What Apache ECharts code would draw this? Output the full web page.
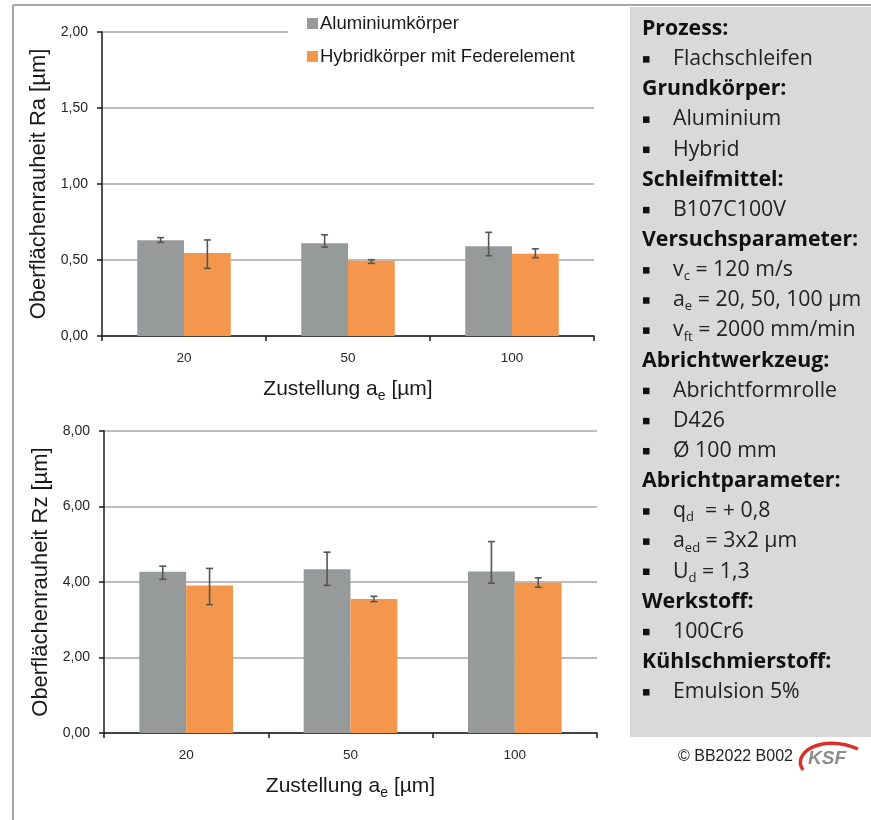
<!DOCTYPE html>
<html><head><meta charset="utf-8">
<script src="https://cdn.jsdelivr.net/npm/echarts@6/dist/echarts.min.js"></script>
<style>html,body{margin:0;padding:0;background:#fff}#c{width:871px;height:820px}</style>
</head><body><div id="c"></div>
<script>
// ---------- data ----------
const categories = ['20', '50', '100'];
const seriesNames = ['Aluminiumkörper', 'Hybridkörper mit Federelement'];

// Ra [µm]
const raAlu      = [0.63, 0.61, 0.59];
const raAluHi    = [0.647, 0.666, 0.682];
const raAluLo    = [0.616, 0.585, 0.528];
const raHyb      = [0.546, 0.495, 0.541];
const raHybHi    = [0.632, 0.502, 0.574];
const raHybLo    = [0.445, 0.478, 0.515];

// Rz [µm]
const rzAlu      = [4.27, 4.34, 4.28];
const rzAluHi    = [4.42, 4.79, 5.07];
const rzAluLo    = [4.07, 3.91, 3.97];
const rzHyb      = [3.91, 3.55, 3.98];
const rzHybHi    = [4.36, 3.62, 4.11];
const rzHybLo    = [3.40, 3.48, 3.86];

const raTicks = { min: 0, max: 2, interval: 0.5 };
const rzTicks = { min: 0, max: 8, interval: 2 };

const panelLines = [
  ['h', 'Prozess:'],
  ['b', 'Flachschleifen'],
  ['h', 'Grundkörper:'],
  ['b', 'Aluminium'],
  ['b', 'Hybrid'],
  ['h', 'Schleifmittel:'],
  ['b', 'B107C100V'],
  ['h', 'Versuchsparameter:'],
  ['b', 'v', 'c', ' = 120 m/s'],
  ['b', 'a', 'e', ' = 20, 50, 100 µm'],
  ['b', 'v', 'ft', ' = 2000 mm/min'],
  ['h', 'Abrichtwerkzeug:'],
  ['b', 'Abrichtformrolle'],
  ['b', 'D426'],
  ['b', 'Ø 100 mm'],
  ['h', 'Abrichtparameter:'],
  ['b', 'q', 'd', '  = + 0,8'],
  ['b', 'a', 'ed', ' = 3x2 µm'],
  ['b', 'U', 'd', ' = 1,3'],
  ['h', 'Werkstoff:'],
  ['b', '100Cr6'],
  ['h', 'Kühlschmierstoff:'],
  ['b', 'Emulsion 5%']
];
const copyrightText = '© BB2022 B002';
const logoText = 'KSF';

// ---------- style ----------
const GRAY = '#979a9b';
const ORANGE = '#f4964c';
const ERR = '#555555';
const FONT = '"Liberation Sans", Arial, sans-serif';
const PFONT = '"Open Sans", Lato, sans-serif';
const PSIZE = 21.3;
const BAR_FRAC = 0.57;

const fmt = v => v.toFixed(2).replace('.', ',');

function errRender(sign) {
  return function (params, api) {
    const x = api.value(0);
    const lo = api.coord([x, api.value(1)]);
    const hi = api.coord([x, api.value(2)]);
    const band = api.size([1, 0])[0];
    const cx = lo[0] + sign * band * BAR_FRAC / 4;
    const cap = 3.5;
    const st = { stroke: ERR, lineWidth: 1.6 };
    return {
      type: 'group',
      children: [
        { type: 'line', shape: { x1: cx, y1: hi[1], x2: cx, y2: lo[1] }, style: st },
        { type: 'line', shape: { x1: cx - cap, y1: hi[1], x2: cx + cap, y2: hi[1] }, style: st },
        { type: 'line', shape: { x1: cx - cap, y1: lo[1], x2: cx + cap, y2: lo[1] }, style: st }
      ]
    };
  };
}
const errData = (lo, hi) => lo.map((l, i) => [i, l, hi[i]]);

function xAxisCfg(gi) {
  return {
    type: 'category', gridIndex: gi, data: categories,
    axisLine: { lineStyle: { color: '#1a1a1a', width: 1.5 } },
    axisTick: { show: true, length: 5, lineStyle: { color: '#1a1a1a', width: 1.5 } },
    axisLabel: { color: '#262626', fontFamily: FONT, fontSize: 13.5, margin: 15 },
    name: '{n|Zustellung a}{s|e}{n| [µm]}',
    nameLocation: 'middle', nameGap: 39,
    nameTextStyle: {
      rich: {
        n: { fontFamily: FONT, fontSize: 21, color: '#1a1a1a', lineHeight: 26, verticalAlign: 'middle' },
        s: { fontFamily: FONT, fontSize: 14, color: '#1a1a1a', lineHeight: 28, verticalAlign: 'bottom' }
      }
    }
  };
}
function yAxisCfg(gi, ticks, name) {
  return {
    type: 'value', gridIndex: gi, min: ticks.min, max: ticks.max, interval: ticks.interval,
    axisLine: { show: true, lineStyle: { color: '#1a1a1a', width: 1.5 } },
    axisTick: { show: true, length: 5, lineStyle: { color: '#1a1a1a', width: 1.5 } },
    axisLabel: { color: '#262626', fontFamily: FONT, fontSize: 14, margin: 14, formatter: fmt },
    splitLine: { show: true, lineStyle: { color: '#a6a6a6', width: 1.5 } },
    name: name, nameLocation: 'middle', nameGap: 50,
    nameTextStyle: { fontFamily: FONT, fontSize: 22, color: '#1a1a1a' }
  };
}
function barSeries(name, data, gi, color) {
  return {
    name: name, type: 'bar', xAxisIndex: gi, yAxisIndex: gi, data: data,
    barGap: '0%', barCategoryGap: (100 - BAR_FRAC * 100) + '%',
    itemStyle: { color: color }, emphasis: { disabled: true }, z: 2
  };
}
function errSeries(lo, hi, gi, sign) {
  return {
    type: 'custom', xAxisIndex: gi, yAxisIndex: gi, renderItem: errRender(sign),
    encode: { x: 0, y: [1, 2] }, data: errData(lo, hi), z: 5, silent: true
  };
}

// ---------- graphics (panel, frame) ----------
const graphics = [
  { type: 'line', shape: { x1: 13, y1: 5, x2: 871, y2: 5 }, style: { stroke: '#a6a6a6', lineWidth: 2 }, z: 1 },
  { type: 'line', shape: { x1: 13, y1: 5, x2: 13, y2: 820 }, style: { stroke: '#a6a6a6', lineWidth: 2 }, z: 1 },
  { type: 'rect', shape: { x: 288, y: 8, width: 310, height: 92 }, style: { fill: '#fff' }, z: 3 },
  { type: 'rect', shape: { x: 630, y: 7, width: 241, height: 730 }, style: { fill: '#d9d9d9' }, z: 1 }
];
const LINE0 = 29, LSTEP = 30.14;
panelLines.forEach((ln, i) => {
  const y = LINE0 + i * LSTEP;
  if (ln[0] === 'h') {
    graphics.push({ type: 'text', x: 642, y: y, z: 2,
      style: { text: ln[1], font: 'bold ' + PSIZE + 'px ' + PFONT, fill: '#111', verticalAlign: 'middle' } });
  } else {
    graphics.push({ type: 'rect', shape: { x: 643, y: y - 3, width: 6.5, height: 6.5 }, style: { fill: '#111' }, z: 2 });
    if (ln.length === 2) {
      graphics.push({ type: 'text', x: 673, y: y, z: 2,
        style: { text: ln[1], font: PSIZE + 'px ' + PFONT, fill: '#222', verticalAlign: 'middle' } });
    } else {
      graphics.push({ type: 'text', x: 673, y: y - 13, z: 2,
        style: {
          text: '{n|' + ln[1] + '}{s|' + ln[2] + '}{n|' + ln[3] + '}',
          rich: {
            n: { fontFamily: PFONT, fontSize: PSIZE, fill: '#222', lineHeight: 26, verticalAlign: 'middle' },
            s: { fontFamily: PFONT, fontSize: 13, fill: '#222', lineHeight: 26, verticalAlign: 'bottom' }
          }
        } });
    }
  }
});
graphics.push({ type: 'text', x: 678, y: 757, z: 2,
  style: { text: copyrightText, font: '16px ' + FONT, fill: '#222', verticalAlign: 'middle' } });
graphics.push({ type: 'bezierCurve', z: 2,
  shape: { x1: 803, y1: 770, x2: 858, y2: 749, cpx1: 791, cpy1: 753, cpx2: 822, cpy2: 733 },
  style: { stroke: '#d6322a', lineWidth: 3.5, fill: null } });
graphics.push({ type: 'text', x: 808, y: 759, z: 2,
  style: { text: logoText, font: 'italic bold 19px ' + FONT, fill: '#8c8c8c', verticalAlign: 'middle' } });

// ---------- chart ----------
const chart = echarts.init(document.getElementById('c'), null, { renderer: 'canvas' });
chart.setOption({
  animation: false,
  backgroundColor: '#fff',
  grid: [
    { left: 102, top: 32, width: 492, height: 304 },
    { left: 104, top: 431, width: 493, height: 302 }
  ],
  legend: {
    orient: 'vertical', left: 302, top: 9, z: 6,
    icon: 'rect', itemWidth: 11, itemHeight: 11, itemGap: 14,
    textStyle: { fontFamily: FONT, fontSize: 18.5, color: '#1a1a1a', padding: [0, 0, 0, -3] },
    data: seriesNames
  },
  xAxis: [xAxisCfg(0), xAxisCfg(1)],
  yAxis: [yAxisCfg(0, raTicks, 'Oberflächenrauheit Ra [µm]'), yAxisCfg(1, rzTicks, 'Oberflächenrauheit Rz [µm]')],
  series: [
    barSeries(seriesNames[0], raAlu, 0, GRAY),
    barSeries(seriesNames[1], raHyb, 0, ORANGE),
    barSeries(seriesNames[0], rzAlu, 1, GRAY),
    barSeries(seriesNames[1], rzHyb, 1, ORANGE),
    errSeries(raAluLo, raAluHi, 0, -1),
    errSeries(raHybLo, raHybHi, 0, 1),
    errSeries(rzAluLo, rzAluHi, 1, -1),
    errSeries(rzHybLo, rzHybHi, 1, 1)
  ],
  graphic: { elements: graphics }
});
</script>
</body></html>
